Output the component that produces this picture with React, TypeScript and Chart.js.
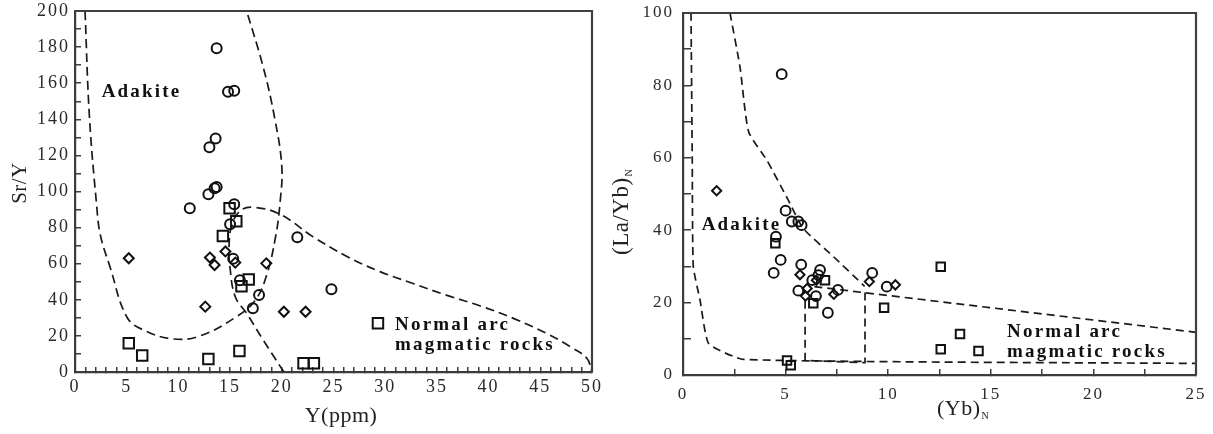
import React, { useEffect, useRef } from 'react';
import { Chart, registerables } from 'chart.js';

Chart.register(...registerables);

type P = { x: number; y: number };
const pts = (a: number[][]): P[] => a.map(([x, y]) => ({ x, y }));

// ---------- Left panel: Sr/Y vs Y(ppm) ----------
const srCircles = pts([
  [13.7, 179.3], [14.8, 155.3], [15.4, 155.8], [13.0, 124.5], [13.6, 129.4],
  [12.9, 98.5], [13.5, 101.8], [13.7, 102.5], [11.1, 90.7], [15.4, 93.0],
  [15.0, 81.8], [15.3, 62.8], [15.95, 50.8], [17.8, 42.6], [17.2, 35.3],
  [21.5, 74.6], [24.8, 45.8],
]);
const srSquares = pts([
  [14.95, 90.7], [15.6, 83.5], [14.3, 75.3], [16.8, 51.2], [16.1, 47.5],
  [5.2, 15.9], [6.5, 9.2], [12.9, 7.2], [15.9, 11.6], [22.1, 4.8], [23.1, 4.8],
  [29.3, 27.0],
]);
const srDiamonds = pts([
  [5.2, 63.0], [13.05, 63.4], [13.5, 59.3], [14.55, 66.8], [15.5, 60.6],
  [18.5, 60.2], [12.6, 36.2], [20.2, 33.4], [22.3, 33.4],
]);
const srAdakiteCurve = pts([
  [0.97, 200], [1.4, 141], [2.1, 92], [2.45, 76], [3.4, 58], [5.0, 30.6],
  [6.6, 23.3], [9.5, 18.3], [12.1, 20.0], [15.6, 30.6], [17.4, 39.5],
  [18.5, 53], [19.4, 75], [19.85, 95], [20.0, 114], [19.3, 141], [18.2, 169],
  [16.6, 200],
]);
const srArcCurve = pts([
  [20.2, 0], [18.2, 17.7], [16.6, 32.5], [15.5, 41.7], [15.0, 57.4],
  [14.9, 70], [15.2, 82], [16.1, 89.8], [17.4, 91.2], [19.8, 87.5],
  [23.0, 75], [26.3, 64], [29.5, 55.6], [32.7, 49], [35.9, 42.6],
  [39.2, 36.6], [42.4, 29.7], [45.6, 21.4], [47.9, 14], [49.5, 7.6], [50, 0],
]);

// ---------- Right panel: (La/Yb)N vs (Yb)N ----------
const lyCircles = pts([
  [4.81, 83.1], [5.0, 45.4], [5.3, 42.4], [5.62, 42.4], [5.78, 41.4],
  [4.53, 38.2], [4.76, 31.8], [4.42, 28.2], [5.76, 30.5], [5.62, 23.3],
  [6.3, 26.2], [6.48, 21.8], [6.68, 29.0], [6.6, 27.6], [7.06, 17.2],
  [7.55, 23.5], [9.22, 28.2], [9.93, 24.4],
]);
const lySquares = pts([
  [4.5, 36.4], [6.35, 19.8], [6.92, 26.2], [9.8, 18.6], [5.07, 4.0],
  [5.25, 2.7], [12.56, 29.9], [13.5, 11.3], [12.56, 7.1], [14.4, 6.6],
]);
const lyDiamonds = pts([
  [1.64, 50.9], [5.7, 27.7], [5.97, 21.8], [6.05, 23.9], [6.5, 26.2],
  [7.35, 22.3], [9.08, 25.8], [10.35, 24.9],
]);
const lyOuterLine = pts([
  [0.39, 100], [0.45, 60], [0.5, 30], [0.83, 20.7], [1.25, 8.7],
  [2.95, 4.3], [25, 3.2],
]);
const lyAdakiteLine = pts([
  [2.29, 100], [2.78, 85], [3.2, 67.2], [4.08, 59.4], [5.13, 48.3],
  [5.86, 40.5], [7.33, 32.7], [8.85, 24.5],
]);
const lyArcLine = pts([[6.4, 24.4], [25, 11.8]]);
const lyBoxLine = pts([[5.95, 20.5], [5.95, 4.0], [8.87, 3.4], [8.87, 23.5]]);

// ---------- Styling helpers ----------
const SERIF = '"Liberation Serif", "Times New Roman", serif';
const INK = '#111';
const AXIS = '#3c3c3c';

const markerDs = (data: P[], style: string, radius: number) => ({
  data,
  pointStyle: style,
  pointRadius: radius,
  borderColor: INK,
  backgroundColor: 'rgba(0,0,0,0)',
  pointBorderColor: INK,
  pointBackgroundColor: 'rgba(0,0,0,0)',
  pointBorderWidth: 2,
  showLine: false,
  order: 0,
});

const lineDs = (data: P[], dash: number[], tension: number) => ({
  data,
  showLine: true,
  pointRadius: 0,
  borderColor: '#1a1a1a',
  borderWidth: 1.7,
  borderDash: dash,
  tension,
  fill: false,
  order: 1,
});

const framePlugin = {
  id: 'frame',
  afterDraw(chart: any) {
    const { ctx, chartArea: a } = chart;
    ctx.save();
    ctx.strokeStyle = '#404040';
    ctx.lineWidth = 2.2;
    ctx.beginPath();
    ctx.moveTo(a.left, a.top);
    ctx.lineTo(a.right, a.top);
    ctx.lineTo(a.right, a.bottom);
    ctx.stroke();
    ctx.restore();
  },
};

const spacingPlugin = (px: string) => ({
  id: 'spacing',
  beforeDraw(chart: any) {
    (chart.ctx as any).letterSpacing = px;
  },
});

type Note = { text: string; x: number; y: number };
const leftNotes: Note[] = [
  { text: 'Adakite', x: 2.58, y: 152.6 },
  { text: 'Normal arc', x: 30.95, y: 23.3 },
  { text: 'magmatic rocks', x: 30.95, y: 12.0 },
];
const rightNotes: Note[] = [
  { text: 'Adakite', x: 0.91, y: 40.0 },
  { text: 'Normal arc', x: 15.79, y: 10.6 },
  { text: 'magmatic rocks', x: 15.79, y: 5.0 },
];

const notesPlugin = (notes: Note[], drawTitles: (ctx: CanvasRenderingContext2D) => void) => ({
  id: 'notes',
  afterDraw(chart: any) {
    const ctx: CanvasRenderingContext2D = chart.ctx;
    const xs = chart.scales.x;
    const ys = chart.scales.y;
    ctx.save();
    (ctx as any).letterSpacing = '2.2px';
    ctx.fillStyle = INK;
    ctx.font = `bold 19px ${SERIF}`;
    ctx.textAlign = 'left';
    ctx.textBaseline = 'alphabetic';
    notes.forEach((n) => {
      ctx.fillText(n.text, xs.getPixelForValue(n.x), ys.getPixelForValue(n.y));
    });
    ctx.restore();
    ctx.save();
    (ctx as any).letterSpacing = '0.5px';
    ctx.fillStyle = '#222';
    drawTitles(ctx);
    ctx.restore();
  },
});

const leftTitles = (ctx: CanvasRenderingContext2D) => {
  ctx.font = `21px ${SERIF}`;
  ctx.textAlign = 'center';
  ctx.textBaseline = 'alphabetic';
  ctx.save();
  ctx.translate(26, 183);
  ctx.rotate(-Math.PI / 2);
  ctx.fillText('Sr/Y', 0, 0);
  ctx.restore();
  ctx.font = `22px ${SERIF}`;
  ctx.fillText('Y(ppm)', 341, 422);
};

const rightTitles = (ctx: CanvasRenderingContext2D) => {
  ctx.textAlign = 'left';
  ctx.textBaseline = 'alphabetic';
  // x title (Yb)N
  ctx.font = `22px ${SERIF}`;
  const mainX = '(Yb)';
  ctx.fillText(mainX, 337, 415);
  const w1 = ctx.measureText(mainX).width;
  ctx.font = `10px ${SERIF}`;
  ctx.fillText('N', 337 + w1 + 1, 419);
  // y title (La/Yb)N
  ctx.save();
  ctx.translate(28, 255);
  ctx.rotate(-Math.PI / 2);
  ctx.font = `23px ${SERIF}`;
  const mainY = '(La/Yb)';
  ctx.fillText(mainY, 0, 0);
  const w2 = ctx.measureText(mainY).width;
  ctx.font = `10px ${SERIF}`;
  ctx.fillText('N', w2 + 1, 4);
  ctx.restore();
};

const axisX = (
  min: number, max: number, step: number, labelEvery: number,
  size: number, tl: number, pad: number, height: number,
) => ({
  type: 'linear',
  position: 'bottom',
  min, max,
  ticks: {
    stepSize: step,
    maxTicksLimit: 1000,
    autoSkip: false,
    maxRotation: 0,
    minRotation: 0,
    padding: pad,
    color: '#2a2a2a',
    font: { family: SERIF, size },
    callback: (v: any) => (Math.abs(v % labelEvery) < 1e-9 ? String(v) : ''),
  },
  grid: { drawOnChartArea: false, drawTicks: true, tickLength: tl, color: AXIS, lineWidth: 1.5 },
  border: { display: true, color: AXIS, width: 2.2 },
  afterFit: (s: any) => {
    s.height = height;
    s.paddingLeft = 0;
    s.paddingRight = 0;
  },
});

const axisY = (
  min: number, max: number, step: number, labelEvery: number,
  size: number, tl: number, pad: number, width: number,
) => ({
  type: 'linear',
  position: 'left',
  min, max,
  ticks: {
    stepSize: step,
    maxTicksLimit: 1000,
    autoSkip: false,
    padding: pad,
    color: '#2a2a2a',
    font: { family: SERIF, size },
    callback: (v: any) => (Math.abs(v % labelEvery) < 1e-9 ? String(v) : ''),
  },
  grid: { drawOnChartArea: false, drawTicks: true, tickLength: tl, color: AXIS, lineWidth: 1.5 },
  border: { display: true, color: AXIS, width: 2.2 },
  afterFit: (s: any) => {
    s.width = width;
    s.paddingTop = 0;
    s.paddingBottom = 0;
  },
});

const baseOptions = (padding: any, scales: any) => ({
  animation: false,
  responsive: false,
  devicePixelRatio: 1,
  events: [],
  layout: { padding },
  plugins: { legend: { display: false }, tooltip: { enabled: false } },
  scales,
});

export default function App() {
  const leftRef = useRef<HTMLCanvasElement>(null);
  const rightRef = useRef<HTMLCanvasElement>(null);

  useEffect(() => {
    const left = new Chart(leftRef.current as HTMLCanvasElement, {
      type: 'scatter',
      data: {
        datasets: [
          markerDs(srCircles, 'circle', 5),
          markerDs(srSquares, 'rect', 7.4),
          markerDs(srDiamonds, 'rectRot', 5),
          lineDs(srAdakiteCurve, [9, 5], 0.4),
          lineDs(srArcCurve, [9, 5], 0.4),
        ] as any,
      },
      options: baseOptions(
        { left: 0, top: 11, right: 18, bottom: 0 },
        {
          x: axisX(0, 50, 1, 5, 18, -5, 9, 62),
          y: axisY(0, 200, 10, 20, 18, -6, 11, 75),
        },
      ) as any,
      plugins: [spacingPlugin('2px'), framePlugin, notesPlugin(leftNotes, leftTitles)],
    });

    const right = new Chart(rightRef.current as HTMLCanvasElement, {
      type: 'scatter',
      data: {
        datasets: [
          markerDs(lyCircles, 'circle', 4.9),
          markerDs(lySquares, 'rect', 6),
          markerDs(lyDiamonds, 'rectRot', 4.6),
          lineDs(lyOuterLine, [8, 5], 0.15),
          lineDs(lyAdakiteLine, [8, 5], 0.2),
          lineDs(lyArcLine, [8, 5], 0),
          lineDs(lyBoxLine, [8, 5], 0),
        ] as any,
      },
      options: baseOptions(
        { left: 0, top: 13, right: 17, bottom: 0 },
        {
          x: axisX(0, 25, 2.5, 5, 17, -6, 15, 59),
          y: axisY(0, 100, 10, 20, 17, -8, 17, 83),
        },
      ) as any,
      plugins: [spacingPlugin('2px'), framePlugin, notesPlugin(rightNotes, rightTitles)],
    });

    return () => {
      left.destroy();
      right.destroy();
    };
  }, []);

  return (
    <div style={{ position: 'absolute', left: 0, top: 0, width: 1213, height: 434, background: '#fff' }}>
      <canvas ref={leftRef} width={610} height={434} style={{ position: 'absolute', left: 0, top: 0 }} />
      <canvas ref={rightRef} width={613} height={434} style={{ position: 'absolute', left: 600, top: 0 }} />
    </div>
  );
}
